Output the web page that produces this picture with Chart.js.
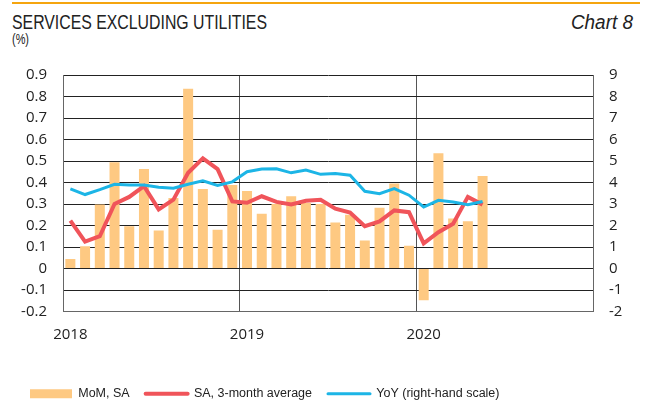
<!DOCTYPE html>
<html>
<head>
<meta charset="utf-8">
<script src="https://cdn.jsdelivr.net/npm/chart.js@4"></script>
<style>
  html, body { margin: 0; padding: 0; background: #fff; }
  body { width: 646px; height: 403px; position: relative; overflow: hidden; color: #222; }
  .rule { position: absolute; left: 12px; top: 2px; width: 628px; height: 2px; background: #f5a50f; }
  .txt { position: absolute; white-space: nowrap; font-family: "Liberation Sans", Arial, sans-serif; }
  .title { left: 12px; top: 12px; font-size: 19.5px; line-height: 20px; transform-origin: left top; }
  .chartno { right: 13px; top: 12px; font-size: 19.5px; line-height: 20px; font-style: italic; transform-origin: right top; }
  .unit { left: 12px; top: 32px; font-size: 14px; line-height: 14px; transform-origin: left top; }
  .wrap { position: absolute; left: 0; top: 50px; width: 646px; height: 360px; }
</style>
</head>
<body>
<div class="rule"></div>
<div class="txt title" id="title">SERVICES EXCLUDING UTILITIES</div>
<div class="txt chartno" id="chartno">Chart 8</div>
<div class="txt unit" id="unit">(%)</div>
<div class="wrap"><canvas id="c"></canvas></div>
<script>
// months on the x axis, Jan 2018 .. Dec 2020
const months = [
  '2018-01','2018-02','2018-03','2018-04','2018-05','2018-06','2018-07','2018-08','2018-09','2018-10','2018-11','2018-12',
  '2019-01','2019-02','2019-03','2019-04','2019-05','2019-06','2019-07','2019-08','2019-09','2019-10','2019-11','2019-12',
  '2020-01','2020-02','2020-03','2020-04','2020-05','2020-06','2020-07','2020-08','2020-09','2020-10','2020-11','2020-12'
];

// MoM, SA (%), left scale
const momSA = [0.044, 0.103, 0.298, 0.494, 0.197, 0.463, 0.177, 0.328, 0.836, 0.370, 0.180, 0.388,
               0.360, 0.255, 0.300, 0.336, 0.305, 0.300, 0.214, 0.250, 0.130, 0.283, 0.395, 0.106,
               -0.148, 0.536, 0.233, 0.220, 0.430];

// SA, 3-month average (%), left scale
const sa3m = [0.223, 0.125, 0.150, 0.300, 0.333, 0.383, 0.275, 0.320, 0.445, 0.512, 0.462, 0.312,
              0.306, 0.336, 0.310, 0.298, 0.315, 0.320, 0.278, 0.260, 0.197, 0.219, 0.270, 0.262,
              0.117, 0.169, 0.208, 0.333, 0.297];

// YoY (%), right scale
const yoy = [3.70, 3.44, 3.67, 3.92, 3.88, 3.88, 3.78, 3.73, 3.92, 4.08, 3.86, 4.03,
             4.50, 4.63, 4.64, 4.45, 4.58, 4.38, 4.42, 4.34, 3.59, 3.48, 3.72, 3.41,
             2.86, 3.17, 3.09, 2.97, 3.12];

const legendNames = ['MoM, SA', 'SA, 3-month average', 'YoY (right-hand scale)'];

const C_BAR  = '#fec982';
const C_RED  = '#f0545a';
const C_BLUE = '#1cb5e6';
const tickFont = { family: '"Open Sans", "Noto Sans", sans-serif', size: 15 };

// the reference header uses a condensed face: squeeze the text to its width
function squeeze(id, w) {
  const el = document.getElementById(id);
  el.style.transform = `scaleX(${w / el.getBoundingClientRect().width})`;
}
squeeze('title', 255);
squeeze('chartno', 62);
squeeze('unit', 17);

new Chart(document.getElementById('c'), {
  data: {
    labels: months,
    datasets: [
      { type: 'line', label: legendNames[2], data: yoy, yAxisID: 'y2', order: 1,
        borderColor: C_BLUE, borderWidth: 3, pointRadius: 0, tension: 0 },
      { type: 'line', label: legendNames[1], data: sa3m, yAxisID: 'y', order: 2,
        borderColor: C_RED, borderWidth: 4, pointRadius: 0, tension: 0 },
      { type: 'bar', label: legendNames[0], data: momSA, yAxisID: 'y', order: 3,
        backgroundColor: C_BAR, barPercentage: 0.68, categoryPercentage: 1 }
    ]
  },
  options: {
    responsive: true, maintainAspectRatio: false, animation: false,
    layout: { padding: { top: 0, left: 14, right: 0, bottom: 0 } },
    plugins: {
      tooltip: { enabled: false },
      legend: {
        position: 'bottom', align: 'start',
        labels: {
          color: '#222',
          font: { family: '"Liberation Sans", Arial, sans-serif', size: 12.5 },
          usePointStyle: true, pointStyleWidth: 42, boxHeight: 9, padding: 16,
          generateLabels: () => [
            { text: legendNames[0], pointStyle: 'rect', fillStyle: C_BAR, strokeStyle: C_BAR, lineWidth: 0, fontColor: '#222' },
            { text: legendNames[1], pointStyle: 'line', fillStyle: C_RED, strokeStyle: C_RED, lineWidth: 4, lineCap: 'round', fontColor: '#222' },
            { text: legendNames[2], pointStyle: 'line', fillStyle: C_BLUE, strokeStyle: C_BLUE, lineWidth: 3, lineCap: 'round', fontColor: '#222' }
          ]
        }
      }
    },
    scales: {
      x: {
        offset: true,
        grid: { offset: true, drawTicks: false,
                color: c => (c.index === 12 || c.index === 24) ? '#555' : 'rgba(0,0,0,0)' },
        border: { color: '#666' },
        ticks: { autoSkip: false, maxRotation: 0, padding: 14, color: '#222', font: tickFont,
                 callback: (v, i) => months[i].endsWith('-01') ? months[i].slice(0, 4) : '' },
        afterFit: s => { s.height = 60; }
      },
      y: {
        position: 'left', min: -0.2, max: 0.9,
        grid: { color: '#222', drawTicks: false },
        border: { color: '#666' },
        ticks: { stepSize: 0.1, autoSkip: false, padding: 16, color: '#222', font: tickFont,
                 callback: v => Math.abs(v) < 1e-9 ? '0' : v.toFixed(1) },
        afterFit: s => { s.width = 49; }
      },
      y2: {
        position: 'right', min: -2, max: 9,
        grid: { display: false, drawTicks: false },
        border: { color: '#666' },
        ticks: { stepSize: 1, autoSkip: false, padding: 16, color: '#222', font: tickFont },
        afterFit: s => { s.width = 53; }
      }
    }
  }
});
</script>
</body>
</html>
